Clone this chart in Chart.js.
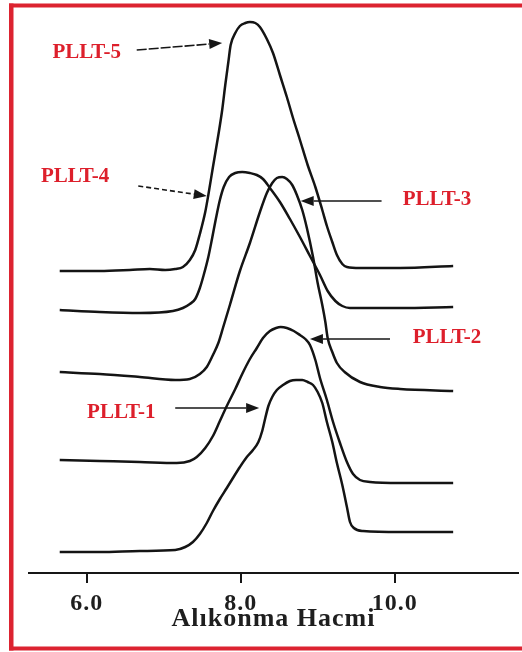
<!DOCTYPE html>
<html>
<head>
<meta charset="utf-8">
<title>PLLT GPC</title>
<script src="https://cdn.jsdelivr.net/npm/chart.js@4.4.1/dist/chart.umd.min.js"></script>
<style>
  html, body { margin: 0; padding: 0; background: #ffffff; overflow: hidden; }
  canvas { display: block; }
</style>
</head>
<body>
<canvas id="gpc" width="522" height="652"></canvas>
<script>
// Sample names and x-axis ticks (retention volume)
const sampleNames = ['PLLT-1', 'PLLT-2', 'PLLT-3', 'PLLT-4', 'PLLT-5'];
const tickValues = [6, 8, 10];

// Each trace: [retention volume, detector response (offset trace)]
const pllt1 = [
  [5.65, 21], [6.17, 21], [6.69, 22], [7.15, 23], [7.28, 26], [7.38, 31], [7.47, 39],
  [7.56, 50], [7.64, 62], [7.73, 74], [7.82, 85], [7.90, 95], [7.99, 106], [8.08, 116],
  [8.16, 123], [8.23, 131], [8.28, 142], [8.32, 155], [8.36, 167], [8.41, 176], [8.47, 183],
  [8.55, 188], [8.64, 192], [8.72, 193], [8.80, 193], [8.87, 191], [8.94, 188], [9.00, 181],
  [9.06, 170], [9.12, 151], [9.19, 131], [9.25, 110], [9.32, 88], [9.38, 66], [9.42, 51],
  [9.47, 45], [9.59, 42], [10.07, 41], [10.76, 41]
];
const pllt2 = [
  [5.65, 113], [6.17, 112], [6.69, 111], [7.17, 110], [7.34, 112], [7.43, 116], [7.54, 125],
  [7.64, 137], [7.73, 152], [7.82, 167], [7.93, 184], [8.02, 199], [8.12, 214], [8.21, 225],
  [8.29, 235], [8.38, 242], [8.46, 245], [8.52, 246], [8.60, 245], [8.69, 242], [8.77, 238],
  [8.84, 234], [8.90, 228], [8.97, 213], [9.03, 195], [9.12, 173], [9.20, 151], [9.29, 130],
  [9.38, 111], [9.46, 99], [9.55, 93], [9.68, 91], [10.07, 90], [10.76, 90]
];
const pllt3 = [
  [5.65, 201], [6.17, 199], [6.69, 196], [7.15, 193], [7.34, 194], [7.47, 199], [7.56, 206],
  [7.64, 218], [7.71, 230], [7.77, 245], [7.86, 268], [7.99, 302], [8.12, 330], [8.25, 361],
  [8.34, 380], [8.41, 390], [8.47, 395], [8.54, 396], [8.60, 394], [8.67, 388], [8.73, 378],
  [8.80, 363], [8.86, 345], [8.94, 316], [9.00, 290], [9.06, 268], [9.10, 251], [9.13, 235],
  [9.19, 221], [9.25, 210], [9.35, 201], [9.55, 191], [9.81, 186], [10.07, 184], [10.76, 182]
];
const pllt4 = [
  [5.65, 263], [6.17, 261], [6.69, 260], [7.12, 262], [7.25, 265], [7.34, 269], [7.41, 274],
  [7.47, 285], [7.52, 298], [7.58, 316], [7.63, 335], [7.68, 355], [7.73, 373], [7.78, 386],
  [7.85, 396], [7.93, 400], [8.02, 401], [8.12, 400], [8.21, 398], [8.29, 394], [8.38, 385],
  [8.51, 371], [8.64, 354], [8.77, 336], [8.90, 317], [9.03, 298], [9.13, 282], [9.23, 272],
  [9.32, 267], [9.42, 265], [10.07, 265], [10.76, 266]
];
const pllt5 = [
  [5.65, 302], [6.17, 302], [6.56, 303], [6.82, 304], [7.02, 303], [7.15, 304], [7.25, 306],
  [7.34, 313], [7.41, 323], [7.47, 339], [7.54, 361], [7.58, 378], [7.64, 406], [7.71, 438],
  [7.76, 463], [7.80, 488], [7.84, 511], [7.87, 528], [7.93, 540], [7.99, 547], [8.06, 550],
  [8.12, 551], [8.19, 550], [8.25, 546], [8.34, 534], [8.42, 520], [8.51, 498], [8.60, 476],
  [8.68, 455], [8.77, 433], [8.87, 408], [8.97, 386], [9.06, 363], [9.12, 347], [9.19, 331],
  [9.25, 318], [9.32, 309], [9.38, 306], [9.55, 305], [10.07, 305], [10.76, 307]
];

const traces = [pllt1, pllt2, pllt3, pllt4, pllt5];

// Callout placement (axis units): label centre, arrow tail, arrow tip
const callouts = {
  'PLLT-5': { label: [6.00, 520], from: [6.65, 523], to: [7.76, 530], dash: [10, 2] },
  'PLLT-4': { label: [5.85, 396], from: [6.67, 387], to: [7.56, 377], dash: [5, 3] },
  'PLLT-3': { label: [10.55, 373], from: [9.83, 372], to: [8.78, 372], dash: [] },
  'PLLT-2': { label: [10.68, 235], from: [9.94, 234], to: [8.90, 234], dash: [] },
  'PLLT-1': { label: [6.45, 160], from: [7.15, 165], to: [8.24, 165], dash: [] }
};

// Red frame on the left, top and bottom edges
const frame = {
  id: 'frame',
  beforeDraw(chart) {
    const ctx = chart.ctx;
    ctx.save();
    ctx.fillStyle = '#dc2330';
    ctx.fillRect(9, 3.5, 513, 4);
    ctx.fillRect(9, 3.5, 4.5, 647);
    ctx.fillRect(9, 646.5, 513, 4);
    ctx.restore();
    ctx.letterSpacing = '1px';
  },
  afterDraw(chart) {
    chart.ctx.letterSpacing = '0px';
  }
};

const calloutPlugin = {
  id: 'callouts',
  afterDatasetsDraw(chart) {
    const { ctx, scales: { x, y } } = chart;
    ctx.save();
    ctx.letterSpacing = '0px';
    for (const name of sampleNames) {
      const c = callouts[name];
      const fx = x.getPixelForValue(c.from[0]), fy = y.getPixelForValue(c.from[1]);
      const tx = x.getPixelForValue(c.to[0]), ty = y.getPixelForValue(c.to[1]);
      const ang = Math.atan2(ty - fy, tx - fx);
      const headLen = 13, headHalf = 5;
      const bx = tx - headLen * Math.cos(ang), by = ty - headLen * Math.sin(ang);
      ctx.strokeStyle = '#161616';
      ctx.lineWidth = 1.6;
      ctx.setLineDash(c.dash);
      ctx.beginPath();
      ctx.moveTo(fx, fy);
      ctx.lineTo(bx, by);
      ctx.stroke();
      ctx.setLineDash([]);
      ctx.fillStyle = '#161616';
      ctx.beginPath();
      ctx.moveTo(tx, ty);
      ctx.lineTo(bx - headHalf * Math.sin(ang), by + headHalf * Math.cos(ang));
      ctx.lineTo(bx + headHalf * Math.sin(ang), by - headHalf * Math.cos(ang));
      ctx.closePath();
      ctx.fill();

      ctx.fillStyle = '#dd1f2b';
      ctx.font = 'bold 21px "Liberation Serif", "Times New Roman", serif';
      ctx.textAlign = 'center';
      ctx.textBaseline = 'middle';
      ctx.fillText(name, x.getPixelForValue(c.label[0]), y.getPixelForValue(c.label[1]));
    }
    ctx.restore();
  }
};

new Chart(document.getElementById('gpc'), {
  type: 'line',
  data: {
    datasets: traces.map((t, i) => ({
      label: sampleNames[i],
      data: t.map(([v, r]) => ({ x: v, y: r })),
      borderColor: '#141414',
      borderWidth: 2.5,
      pointRadius: 0,
      fill: false,
      cubicInterpolationMode: 'monotone'
    }))
  },
  options: {
    responsive: false,
    animation: false,
    devicePixelRatio: 1,
    layout: { padding: { left: 29, right: 4, top: 5, bottom: 19.5 } },
    plugins: { legend: { display: false }, tooltip: { enabled: false } },
    scales: {
      x: {
        type: 'linear',
        min: 5.251,
        max: 11.602,
        afterBuildTicks(scale) { scale.ticks = tickValues.map(v => ({ value: v })); },
        border: { display: true, color: '#161616', width: 2 },
        grid: { display: true, drawOnChartArea: false, drawTicks: true, tickLength: 10, color: '#161616', lineWidth: 2 },
        ticks: {
          padding: 9,
          color: '#1e1e1e',
          maxRotation: 0,
          autoSkip: false,
          font: { family: '"Liberation Serif", "Times New Roman", serif', size: 24, weight: 'bold', lineHeight: 1 },
          callback: v => Number(v).toFixed(1)
        },
        title: {
          display: true,
          text: 'Alıkonma Hacmi',
          color: '#1e1e1e',
          padding: { top: -18.5, bottom: 0 },
          font: { family: '"Liberation Serif", "Times New Roman", serif', size: 26, weight: 'bold', lineHeight: 1 }
        }
      },
      y: {
        type: 'linear',
        display: false,
        min: 0,
        max: 568
      }
    }
  },
  plugins: [frame, calloutPlugin]
});
</script>
</body>
</html>
